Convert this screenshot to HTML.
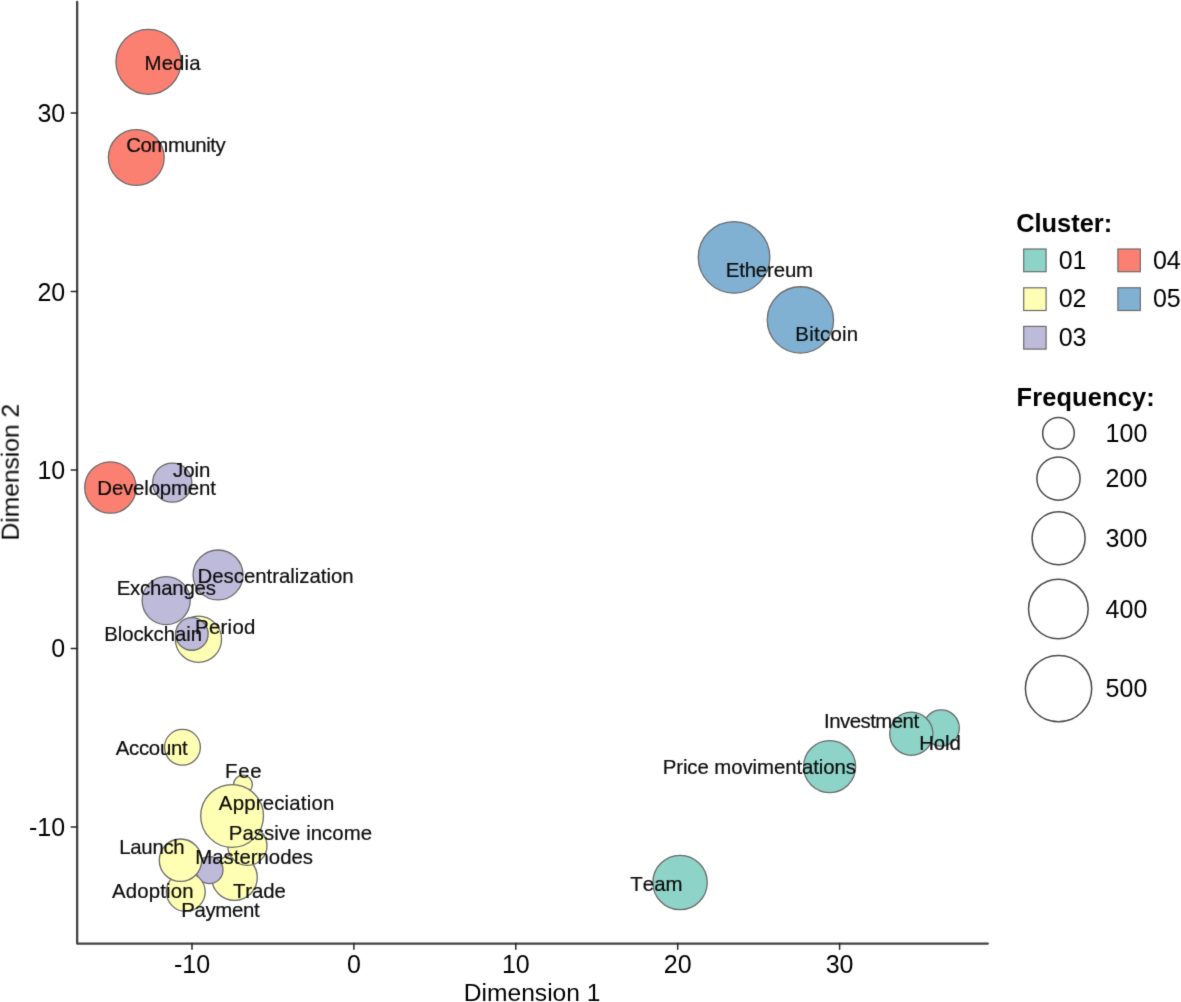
<!DOCTYPE html>
<html><head><meta charset="utf-8"><style>
html,body{margin:0;padding:0;background:#fff;}
svg{display:block;will-change:transform;}
text{font-family:"Liberation Sans",sans-serif;font-kerning:none;font-feature-settings:"kern" 0,"liga" 0;}
</style></head><body>
<svg width="1181" height="1002" viewBox="0 0 1181 1002">
<defs><filter id="soft" filterUnits="userSpaceOnUse" x="0" y="0" width="1181" height="1002" color-interpolation-filters="sRGB"><feConvolveMatrix order="3" kernelMatrix="0.01134 0.08382 0.01134 0.08382 0.61935 0.08382 0.01134 0.08382 0.01134" edgeMode="duplicate" preserveAlpha="false"/></filter></defs>
<g filter="url(#soft)">

<g stroke="#6b6b6b" stroke-width="1.3">
<circle cx="148.45" cy="61.8" r="32.50" fill="#FB8072"/>
<circle cx="136.3" cy="157.45" r="27.90" fill="#FB8072"/>
<circle cx="734.05" cy="257.35" r="35.80" fill="#80B1D3"/>
<circle cx="800.4" cy="319.9" r="33.15" fill="#80B1D3"/>
<circle cx="110.4" cy="487.5" r="25.70" fill="#FB8072"/>
<circle cx="172.25" cy="482.65" r="19.55" fill="#BEBADA"/>
<circle cx="218.05" cy="574.95" r="24.95" fill="#BEBADA"/>
<circle cx="166.15" cy="600.6" r="24.05" fill="#BEBADA"/>
<circle cx="198.45" cy="639.2" r="23.10" fill="#FFFFB3"/>
<circle cx="191.85" cy="633.95" r="16.30" fill="#BEBADA"/>
<circle cx="182.45" cy="747.3" r="17.90" fill="#FFFFB3"/>
<circle cx="243.0" cy="784.6" r="9.40" fill="#FFFFB3"/>
<circle cx="234.5" cy="877.6" r="22.80" fill="#FFFFB3"/>
<circle cx="247.4" cy="845.8" r="19.60" fill="#FFFFB3"/>
<circle cx="232.1" cy="815.95" r="31.40" fill="#FFFFB3"/>
<circle cx="209.5" cy="870.1" r="13.50" fill="#BEBADA"/>
<circle cx="185.75" cy="891.85" r="19.45" fill="#FFFFB3"/>
<circle cx="180.5" cy="860.2" r="21.20" fill="#FFFFB3"/>
<circle cx="941.2" cy="728.0" r="18.10" fill="#8DD3C7"/>
<circle cx="911.3" cy="733.7" r="21.60" fill="#8DD3C7"/>
<circle cx="829.6" cy="766.6" r="26.05" fill="#8DD3C7"/>
<circle cx="680.05" cy="882.5" r="27.20" fill="#8DD3C7"/>
</g>
<g font-size="20.4" fill="#0d0d0d" stroke="#0d0d0d" stroke-width="0.2">
<text x="144.58" y="69.85" letter-spacing="0.115" transform="translate(0 69.85) scale(1 1.03) translate(0 -69.85)">Media</text>
<text x="126.16" y="152.45" letter-spacing="-0.431" transform="translate(0 152.45) scale(1 1.03) translate(0 -152.45)">Community</text>
<text x="725.73" y="277.50" letter-spacing="-0.146" transform="translate(0 277.50) scale(1 1.03) translate(0 -277.50)">Ethereum</text>
<text x="795.33" y="340.55" letter-spacing="0.270" transform="translate(0 340.55) scale(1 1.03) translate(0 -340.55)">Bitcoin</text>
<text x="97.33" y="495.30" letter-spacing="-0.158" transform="translate(0 495.30) scale(1 1.03) translate(0 -495.30)">Development</text>
<text x="172.93" y="477.35" letter-spacing="0.023" transform="translate(0 477.35) scale(1 1.03) translate(0 -477.35)">Join</text>
<text x="197.58" y="582.60" letter-spacing="-0.014" transform="translate(0 582.60) scale(1 1.03) translate(0 -582.60)">Descentralization</text>
<text x="116.68" y="595.15" letter-spacing="-0.197" transform="translate(0 595.15) scale(1 1.03) translate(0 -595.15)">Exchanges</text>
<text x="104.18" y="641.25" letter-spacing="-0.078" transform="translate(0 641.25) scale(1 1.03) translate(0 -641.25)">Blockchain</text>
<text x="195.05" y="633.55" letter-spacing="0.280" transform="translate(0 633.55) scale(1 1.03) translate(0 -633.55)">Period</text>
<text x="115.76" y="754.95" letter-spacing="-0.287" transform="translate(0 754.95) scale(1 1.03) translate(0 -754.95)">Account</text>
<text x="225.03" y="778.10" letter-spacing="0.779" transform="translate(0 778.10) scale(1 1.03) translate(0 -778.10)">Fee</text>
<text x="218.86" y="810.25" letter-spacing="0.196" transform="translate(0 810.25) scale(1 1.03) translate(0 -810.25)">Appreciation</text>
<text x="228.83" y="839.90" letter-spacing="0.036" transform="translate(0 839.90) scale(1 1.03) translate(0 -839.90)">Passive income</text>
<text x="119.33" y="854.30" letter-spacing="-0.316" transform="translate(0 854.30) scale(1 1.03) translate(0 -854.30)">Launch</text>
<text x="195.33" y="864.25" letter-spacing="-0.012" transform="translate(0 864.25) scale(1 1.03) translate(0 -864.25)">Masternodes</text>
<text x="112.11" y="898.10" letter-spacing="0.133" transform="translate(0 898.10) scale(1 1.03) translate(0 -898.10)">Adoption</text>
<text x="232.96" y="898.00" letter-spacing="-0.112" transform="translate(0 898.00) scale(1 1.03) translate(0 -898.00)">Trade</text>
<text x="181.20" y="917.50" letter-spacing="-0.317" transform="translate(0 917.50) scale(1 1.03) translate(0 -917.50)">Payment</text>
<text x="824.02" y="728.15" letter-spacing="-0.516" transform="translate(0 728.15) scale(1 1.03) translate(0 -728.15)">Investment</text>
<text x="919.28" y="749.55" letter-spacing="-0.146" transform="translate(0 749.55) scale(1 1.03) translate(0 -749.55)">Hold</text>
<text x="662.68" y="774.50" letter-spacing="-0.079" transform="translate(0 774.50) scale(1 1.03) translate(0 -774.50)">Price movimentations</text>
<text x="630.24" y="890.60" letter-spacing="0.069" transform="translate(0 890.60) scale(1 1.03) translate(0 -890.60)">Team</text>
</g>
<path d="M77.15,2 L77.15,943.6 L987.8,943.6" stroke="#444" stroke-width="2.3" fill="none" stroke-linecap="round" stroke-linejoin="round"/>
<g stroke="#262626" stroke-width="1.5" stroke-linecap="round">
<line x1="192.00" y1="943.6" x2="192.00" y2="949.2"/>
<line x1="353.90" y1="943.6" x2="353.90" y2="949.2"/>
<line x1="515.80" y1="943.6" x2="515.80" y2="949.2"/>
<line x1="677.70" y1="943.6" x2="677.70" y2="949.2"/>
<line x1="839.60" y1="943.6" x2="839.60" y2="949.2"/>
<line x1="71.25" y1="827.06" x2="77.15" y2="827.06"/>
<line x1="71.25" y1="648.55" x2="77.15" y2="648.55"/>
<line x1="71.25" y1="470.04" x2="77.15" y2="470.04"/>
<line x1="71.25" y1="291.53" x2="77.15" y2="291.53"/>
<line x1="71.25" y1="113.02" x2="77.15" y2="113.02"/>
</g>
<g font-size="25.0" fill="#000">
<text x="192.00" y="973.0" text-anchor="middle">-10</text>
<text x="353.90" y="973.0" text-anchor="middle">0</text>
<text x="515.80" y="973.0" text-anchor="middle">10</text>
<text x="677.70" y="973.0" text-anchor="middle">20</text>
<text x="839.60" y="973.0" text-anchor="middle">30</text>
<text x="65.2" y="836.20" text-anchor="end">-10</text>
<text x="65.2" y="657.20" text-anchor="end">0</text>
<text x="65.2" y="478.70" text-anchor="end">10</text>
<text x="65.2" y="300.90" text-anchor="end">20</text>
<text x="65.2" y="121.70" text-anchor="end">30</text>
</g>
<text x="463.78" y="1000.6" font-size="24.6" fill="#000">Dimension 1</text>
<text transform="translate(18.7,540.52) rotate(-90)" font-size="24.6" fill="#000">Dimension 2</text>
<text x="1016.16" y="231.6" font-size="25.4" font-weight="bold" fill="#000">Cluster:</text>
<rect x="1023.7" y="249.0" width="22.4" height="22.7" fill="#8DD3C7" stroke="#6b6b6b" stroke-width="1.2"/>
<text x="1058.70" y="268.50" font-size="25.0" fill="#000">01</text>
<rect x="1023.7" y="287.8" width="22.4" height="22.7" fill="#FFFFB3" stroke="#6b6b6b" stroke-width="1.2"/>
<text x="1058.70" y="307.30" font-size="25.0" fill="#000">02</text>
<rect x="1023.7" y="326.40000000000003" width="22.4" height="22.7" fill="#BEBADA" stroke="#6b6b6b" stroke-width="1.2"/>
<text x="1058.70" y="345.90" font-size="25.0" fill="#000">03</text>
<rect x="1117.8999999999999" y="249.0" width="22.4" height="22.7" fill="#FB8072" stroke="#6b6b6b" stroke-width="1.2"/>
<text x="1152.90" y="268.50" font-size="25.0" fill="#000">04</text>
<rect x="1117.8999999999999" y="287.8" width="22.4" height="22.7" fill="#80B1D3" stroke="#6b6b6b" stroke-width="1.2"/>
<text x="1152.90" y="307.30" font-size="25.0" fill="#000">05</text>
<text x="1016.50" y="405.6" font-size="25.4" font-weight="bold" fill="#000" letter-spacing="0.148">Frequency:</text>
<circle cx="1058.45" cy="433.25" r="15.80" fill="none" stroke="#4a4a4a" stroke-width="1.5"/>
<text x="1105.6" y="442.05" font-size="25.0" fill="#000">100</text>
<circle cx="1058.5" cy="478.55" r="21.60" fill="none" stroke="#4a4a4a" stroke-width="1.5"/>
<text x="1105.6" y="487.35" font-size="25.0" fill="#000">200</text>
<circle cx="1058.6" cy="538.3" r="26.50" fill="none" stroke="#4a4a4a" stroke-width="1.5"/>
<text x="1105.6" y="547.10" font-size="25.0" fill="#000">300</text>
<circle cx="1058.35" cy="608.95" r="29.80" fill="none" stroke="#4a4a4a" stroke-width="1.5"/>
<text x="1105.6" y="617.75" font-size="25.0" fill="#000">400</text>
<circle cx="1058.55" cy="688.55" r="33.15" fill="none" stroke="#4a4a4a" stroke-width="1.5"/>
<text x="1105.6" y="697.35" font-size="25.0" fill="#000">500</text>
</g></svg></body></html>
